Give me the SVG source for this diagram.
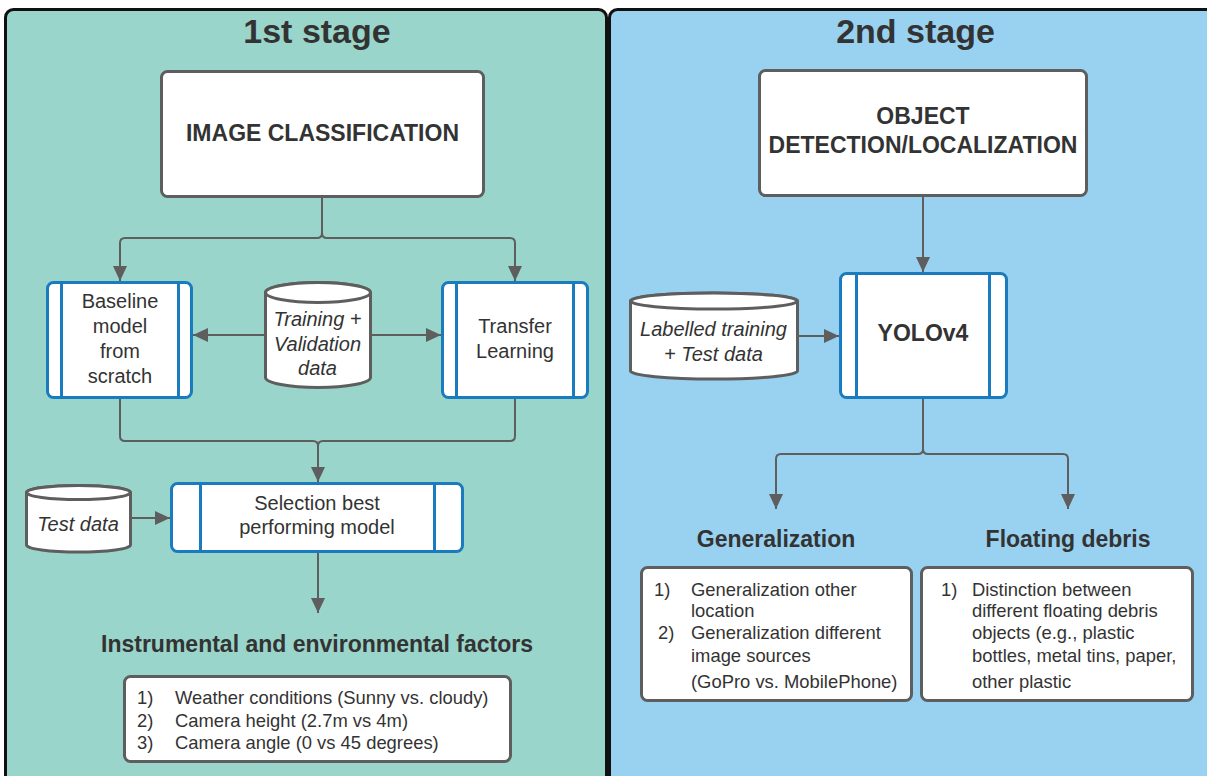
<svg xmlns="http://www.w3.org/2000/svg" width="1207" height="776" viewBox="0 0 1207 776">
  <style>
    text { font-family: "Liberation Sans", Arial, sans-serif; fill: #333333; }
    .title { font-size: 34px; font-weight: bold; text-anchor: middle; }
    .head { font-size: 23px; font-weight: bold; text-anchor: middle; }
    .sub { font-size: 23px; font-weight: bold; text-anchor: middle; }
    .lbl { font-size: 20px; text-anchor: middle; }
    .it { font-size: 20px; font-style: italic; text-anchor: middle; }
    .li { font-size: 18.4px; }
    .panel { stroke: #111111; stroke-width: 3; }
    .gbox { fill: #ffffff; stroke: #5e5e5e; stroke-width: 3; }
    .bbox { fill: #ffffff; stroke: #1a7bbf; stroke-width: 3; }
    .bline { stroke: #1a7bbf; stroke-width: 3; }
    .cyl { fill: #ffffff; stroke: #5e5e5e; stroke-width: 3; }
    .conn { fill: none; stroke: #5e5e5e; stroke-width: 2; }
  </style>
  <defs>
    <marker id="arrow" markerUnits="userSpaceOnUse" markerWidth="16" markerHeight="14" refX="15" refY="7" orient="auto">
      <path d="M0,0 L15,7 L0,14 Z" fill="#5e5e5e"/>
    </marker>
  </defs>

  <rect width="1207" height="776" fill="#ffffff"/>

  <!-- stage panels -->
  <g id="stage1">
    <rect class="panel" x="5.5" y="9.5" width="601" height="800" rx="8" fill="#99d5ca"/>
    <text class="title" x="317" y="43">1st stage</text>
  </g>
  <g id="stage2">
    <rect class="panel" x="609.5" y="9.5" width="640" height="800" rx="8" fill="#99d1f1"/>
    <text class="title" x="915.5" y="43">2nd stage</text>
  </g>

  <!-- connectors -->
  <g id="connectors">
    <path class="conn" d="M322,197 V233 Q322,238 317,238 H125 Q120,238 120,243 V281" marker-end="url(#arrow)"/>
    <path class="conn" d="M322,233 Q322,238 327,238 H510 Q515,238 515,243 V281" marker-end="url(#arrow)"/>
    <path class="conn" d="M265,335 H193" marker-end="url(#arrow)"/>
    <path class="conn" d="M370,335 H441" marker-end="url(#arrow)"/>
    <path class="conn" d="M120,398 V436 Q120,441 125,441 H313 Q318,441 318,446 V482" marker-end="url(#arrow)"/>
    <path class="conn" d="M515,398 V436 Q515,441 510,441 H323 Q318,441 318,446"/>
    <path class="conn" d="M130,518 H170" marker-end="url(#arrow)"/>
    <path class="conn" d="M318,552 V613" marker-end="url(#arrow)"/>
    <path class="conn" d="M923,196 V272" marker-end="url(#arrow)"/>
    <path class="conn" d="M797,336 H839" marker-end="url(#arrow)"/>
    <path class="conn" d="M923,398 V449 Q923,454 918,454 H781 Q776,454 776,459 V509" marker-end="url(#arrow)"/>
    <path class="conn" d="M923,449 Q923,454 928,454 H1063 Q1068,454 1068,459 V509" marker-end="url(#arrow)"/>
  </g>

  <!-- stage 1 nodes -->
  <g id="image-classification">
    <rect class="gbox" x="161.5" y="71.5" width="322" height="125" rx="6"/>
    <text class="head" x="322.5" y="140.5">IMAGE CLASSIFICATION</text>
  </g>

  <g id="baseline-model">
    <rect class="bbox" x="47.5" y="282.5" width="144" height="115" rx="6"/>
    <line class="bline" x1="61.5" y1="283" x2="61.5" y2="397"/>
    <line class="bline" x1="178.5" y1="283" x2="178.5" y2="397"/>
    <text class="lbl" x="120" y="308">Baseline</text>
    <text class="lbl" x="120" y="333">model</text>
    <text class="lbl" x="120" y="358">from</text>
    <text class="lbl" x="120" y="383">scratch</text>
  </g>

  <g id="train-val-data">
    <path class="cyl" d="M265.5,292.5 V377.5 A52.5,10 0 0 0 370.5,377.5 V292.5 A52.5,10 0 0 0 265.5,292.5 Z"/>
    <ellipse class="cyl" cx="318" cy="292.5" rx="52.5" ry="10"/>
    <text class="it" x="317.5" y="326">Training +</text>
    <text class="it" x="317.5" y="351">Validation</text>
    <text class="it" x="317.5" y="375">data</text>
  </g>

  <g id="transfer-learning">
    <rect class="bbox" x="442.5" y="282.5" width="145" height="115" rx="6"/>
    <line class="bline" x1="456.5" y1="283" x2="456.5" y2="397"/>
    <line class="bline" x1="573.5" y1="283" x2="573.5" y2="397"/>
    <text class="lbl" x="515" y="333">Transfer</text>
    <text class="lbl" x="515" y="358">Learning</text>
  </g>

  <g id="test-data">
    <path class="cyl" d="M26.5,492.5 V545 A52,7 0 0 0 130.5,545 V492.5 A52,7 0 0 0 26.5,492.5 Z"/>
    <ellipse class="cyl" cx="78.5" cy="492.5" rx="52" ry="7"/>
    <text class="it" x="78" y="531">Test data</text>
  </g>

  <g id="model-selection">
    <rect class="bbox" x="171.5" y="483.5" width="291" height="68" rx="6"/>
    <line class="bline" x1="200.5" y1="484" x2="200.5" y2="551"/>
    <line class="bline" x1="434.5" y1="484" x2="434.5" y2="551"/>
    <text class="lbl" x="317" y="510">Selection best</text>
    <text class="lbl" x="317" y="534">performing model</text>
  </g>

  <g id="factors">
    <text class="sub" x="317" y="652">Instrumental and environmental factors</text>
    <rect class="gbox" x="124.5" y="676.5" width="386" height="85" rx="6"/>
    <text class="li" x="137" y="704">1)</text>
    <text class="li" x="175" y="704">Weather conditions (Sunny vs. cloudy)</text>
    <text class="li" x="137" y="727">2)</text>
    <text class="li" x="175" y="727">Camera height (2.7m vs 4m)</text>
    <text class="li" x="137" y="749">3)</text>
    <text class="li" x="175" y="749">Camera angle (0 vs 45 degrees)</text>
  </g>

  <!-- stage 2 nodes -->
  <g id="object-detection">
    <rect class="gbox" x="759.5" y="70.5" width="327" height="125" rx="6"/>
    <text class="head" x="923" y="124">OBJECT</text>
    <text class="head" x="923" y="152.5">DETECTION/LOCALIZATION</text>
  </g>

  <g id="labelled-data">
    <path class="cyl" d="M630.5,301 V371 A83.5,8 0 0 0 797.5,371 V301 A83.5,8 0 0 0 630.5,301 Z"/>
    <ellipse class="cyl" cx="714" cy="301" rx="83.5" ry="8"/>
    <text class="it" x="713.5" y="336">Labelled training</text>
    <text class="it" x="713.5" y="361">+ Test data</text>
  </g>

  <g id="yolov4">
    <rect class="bbox" x="840.5" y="273.5" width="166" height="124" rx="6"/>
    <line class="bline" x1="856.5" y1="274" x2="856.5" y2="397"/>
    <line class="bline" x1="989.5" y1="274" x2="989.5" y2="397"/>
    <text class="head" x="923" y="341">YOLOv4</text>
  </g>

  <g id="generalization">
    <text class="sub" x="776" y="547">Generalization</text>
    <rect class="gbox" x="641.5" y="567.5" width="270" height="133" rx="6"/>
    <text class="li" x="654" y="596">1)</text>
    <text class="li" x="691" y="596">Generalization other</text>
    <text class="li" x="691" y="617">location</text>
    <text class="li" x="658" y="639">2)</text>
    <text class="li" x="691" y="639">Generalization different</text>
    <text class="li" x="691" y="662">image sources</text>
    <text class="li" x="691" y="688">(GoPro vs. MobilePhone)</text>
  </g>

  <g id="floating-debris">
    <text class="sub" x="1068" y="547">Floating debris</text>
    <rect class="gbox" x="921.5" y="567.5" width="271" height="133" rx="6"/>
    <text class="li" x="941" y="596">1)</text>
    <text class="li" x="972" y="596">Distinction between</text>
    <text class="li" x="972" y="617">different floating debris</text>
    <text class="li" x="972" y="639">objects (e.g., plastic</text>
    <text class="li" x="972" y="662">bottles, metal tins, paper,</text>
    <text class="li" x="972" y="688">other plastic</text>
  </g>
</svg>
